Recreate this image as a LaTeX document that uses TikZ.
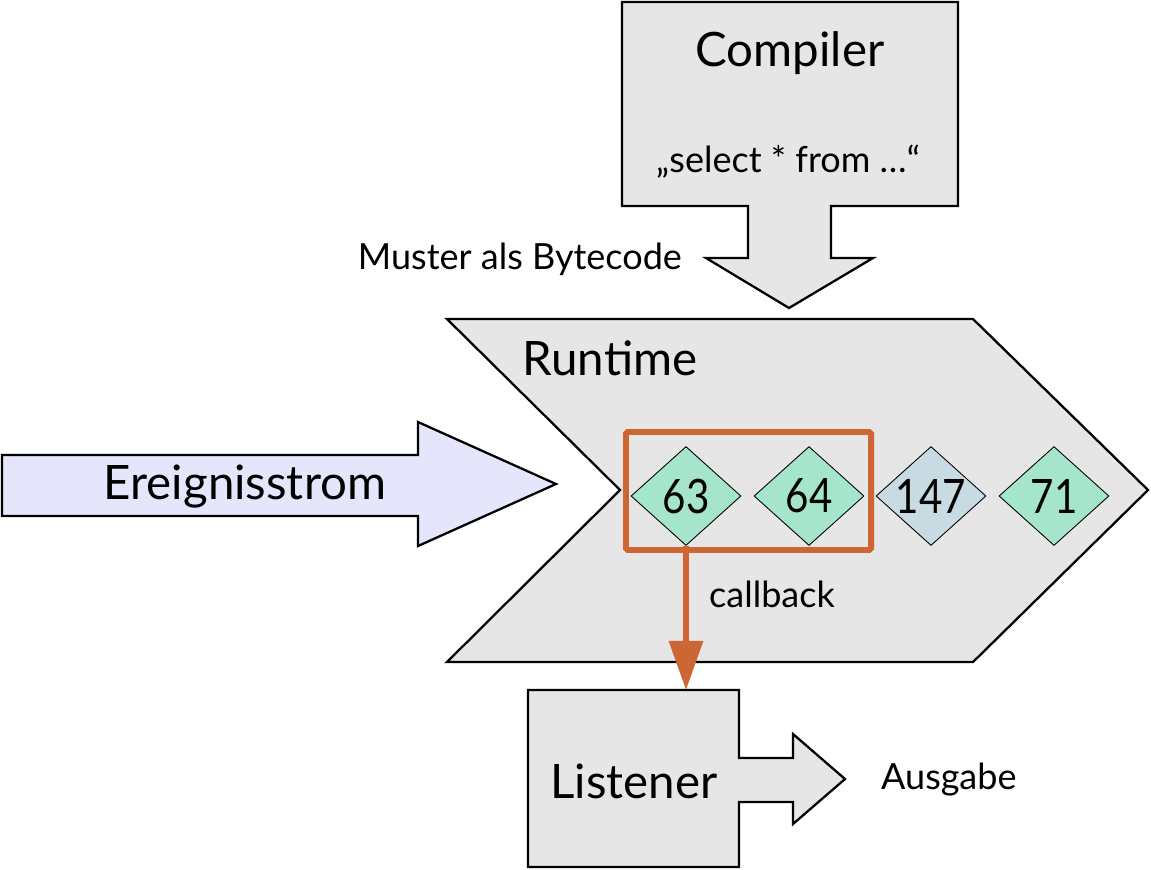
\documentclass[tikz,border=0pt]{standalone}
\usepackage{fontspec}
\usepackage{graphicx}
\setmainfont{Lato}
\usetikzlibrary{arrows.meta,shapes.geometric}
\definecolor{panel}{RGB}{230,230,230}
\definecolor{lavender}{RGB}{229,229,251}
\definecolor{mint}{RGB}{164,229,204}
\definecolor{steel}{RGB}{200,218,226}
\definecolor{rust}{RGB}{204,102,51}
\newcommand{\evtext}[1]{\makebox[0pt]{\scalebox{0.85}[1]{#1}}}
\tikzset{
  shapebox/.style={draw, line width=1.3pt, fill=panel, line join=miter},
  event/.style={draw, shape=diamond, line width=0.5pt, inner sep=0pt,
    minimum width=2.2cm, minimum height=1.98cm, font=\fontsize{27}{29}\selectfont},
  big/.style={font=\fontsize{27}{31}\selectfont},
  small/.style={font=\fontsize{20.5}{24}\selectfont}
}
\begin{document}
\begin{tikzpicture}[x=0.02cm, y=-0.02cm]
\useasboundingbox (0,0) rectangle (1151,869);
% Compiler with arrow down
\draw[shapebox] (622,2) -- (958,2) -- (958,206) -- (831,206) -- (831,258) -- (873,258)
  -- (789,308) -- (706,258) -- (748,258) -- (748,206) -- (622,206) -- cycle;
\node[big] (comp) at (790,53) {Compiler};
\node[small] (query) at (788,162) {„select * from …“};
\node[small, anchor=east] (muster) at (688,259) {Muster als Bytecode};

% Runtime chevron
\draw[shapebox] (447,319) -- (973,319) -- (1148,490) -- (973,662) -- (447,662) -- (620,490) -- cycle;
\node[big] (rt) at (610,358) {Runtime};

% Event stream
\draw[shapebox, fill=lavender] (2,455) -- (418,455) -- (418,422) -- (556,484) -- (418,546)
  -- (418,516) -- (2,516) -- cycle;
\node[big] (stream) at (245,487) {Ereignisstrom};

% Events
\node[event, fill=mint] (e63) at (686,496) {\evtext{63}};
\node[event, fill=mint] (e64) at (809,496) {\evtext{64}};
\node[event, fill=steel] (e147) at (931,496) {\evtext{147}};
\node[event, fill=mint] (e71) at (1054,496) {\evtext{71}};

% Match window
\draw[rust, line width=3.4pt, rounded corners=1pt] (626,432) rectangle (871,550);

% Listener with output arrow
\draw[shapebox] (528,690) -- (739,690) -- (739,758) -- (793,758) -- (793,734) -- (845,779)
  -- (793,824) -- (793,802) -- (739,802) -- (739,867) -- (528,867) -- cycle;
\coordinate (lsttop) at (686,690);
\node[big] (lst) at (634,781) {Listener};
\node[small, anchor=west] (out) at (875,780) {Ausgabe};

% Callback
\draw[rust, line width=3pt, -{Triangle[width=19pt,length=28pt]}] (e63.south) -- (lsttop);
\node[small] (cb) at (772,594) {callback};
\end{tikzpicture}
\end{document}
